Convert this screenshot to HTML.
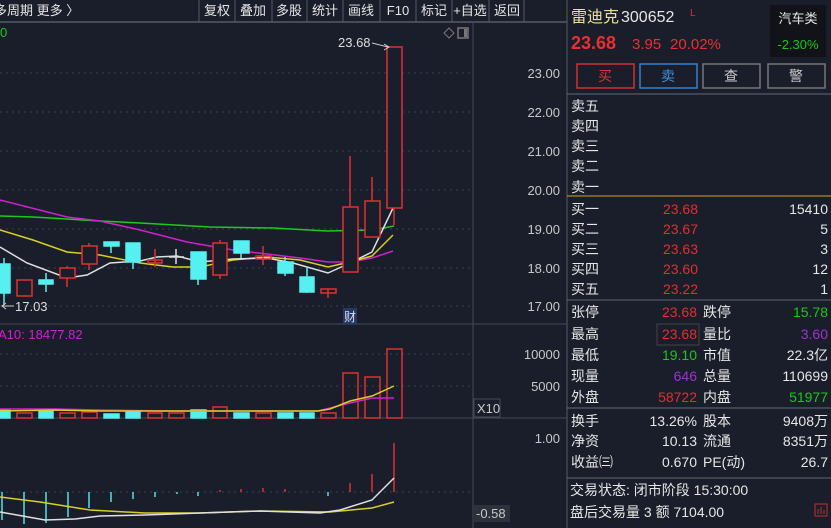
<!DOCTYPE html>
<html><head><meta charset="utf-8"><style>
body{margin:0;width:831px;height:528px;background:#1a1e2a;overflow:hidden;font-family:"Liberation Sans","Noto Sans CJK SC",sans-serif;}
svg{position:absolute;left:0;top:0}
</style></head><body>
<svg width="831" height="528" viewBox="0 0 831 528" font-family="Liberation Sans, Noto Sans CJK SC, sans-serif">
<rect width="831" height="528" fill="#1a1e2a"/>
<line x1="0" y1="22" x2="567" y2="22" stroke="#555a66" stroke-width="1.5"/>
<text x="-6" y="15" fill="#e6e6e6" font-size="13">多周期  更多 〉</text>
<g stroke="#555a66"><line x1="199" y1="0" x2="199" y2="22"/><line x1="235" y1="0" x2="235" y2="22"/><line x1="272" y1="0" x2="272" y2="22"/><line x1="307" y1="0" x2="307" y2="22"/><line x1="343" y1="0" x2="343" y2="22"/><line x1="380" y1="0" x2="380" y2="22"/><line x1="416" y1="0" x2="416" y2="22"/><line x1="452" y1="0" x2="452" y2="22"/><line x1="489" y1="0" x2="489" y2="22"/><line x1="524" y1="0" x2="524" y2="22"/></g>
<g fill="#e6e6e6" font-size="13" text-anchor="middle"><text x="217" y="15">复权</text><text x="253" y="15">叠加</text><text x="289" y="15">多股</text><text x="325" y="15">统计</text><text x="361" y="15">画线</text><text x="398" y="15">F10</text><text x="434" y="15">标记</text><text x="470" y="15">+自选</text><text x="507" y="15">返回</text></g>
<line x1="473" y1="22" x2="473" y2="528" stroke="#444a55"/>
<line x1="567" y1="0" x2="567" y2="528" stroke="#555a66"/>
<line x1="0" y1="324" x2="567" y2="324" stroke="#444a55"/>
<line x1="0" y1="418" x2="567" y2="418" stroke="#444a55"/>
<text x="0" y="37" fill="#19c819" font-size="13">0</text>
<path d="M444 33 l5 -5 l5 5 l-5 5z" fill="none" stroke="#777" />
<rect x="458" y="28" width="10" height="10" fill="none" stroke="#777" stroke-width="1.5"/><rect x="464" y="29" width="3" height="8" fill="#777"/>
<g stroke="#3a4050" stroke-dasharray="2,4"><line x1="0" y1="73" x2="473" y2="73"/><line x1="0" y1="112" x2="473" y2="112"/><line x1="0" y1="151" x2="473" y2="151"/><line x1="0" y1="190" x2="473" y2="190"/><line x1="0" y1="229" x2="473" y2="229"/><line x1="0" y1="268" x2="473" y2="268"/><line x1="0" y1="306" x2="473" y2="306"/><line x1="0" y1="354" x2="473" y2="354"/><line x1="0" y1="386" x2="473" y2="386"/><line x1="0" y1="492" x2="473" y2="492"/></g>
<g fill="#c8c8c8" font-size="13" text-anchor="end"><text x="560" y="78">23.00</text><text x="560" y="117">22.00</text><text x="560" y="156">21.00</text><text x="560" y="195">20.00</text><text x="560" y="234">19.00</text><text x="560" y="273">18.00</text><text x="560" y="311">17.00</text><text x="560" y="359">10000</text><text x="560" y="391">5000</text><text x="560" y="443">1.00</text></g>
<rect x="474" y="399" width="26" height="18" fill="none" stroke="#444a55"/><text x="477" y="413" fill="#c8c8c8" font-size="13">X10</text>
<rect x="474" y="505" width="36" height="17" fill="#2c313c"/><text x="476" y="518" fill="#c8c8c8" font-size="13">-0.58</text>
<g fill="none" stroke-width="1.5">
<polyline stroke="#1ec81e" points="0,216 33,217 100,221 140,223 210,227 273,228 327,231 373,230 394,226"/>
<polyline stroke="#d020d0" points="0,200 67,217 100,221 140,230 187,242 233,250 267,254 300,258 328,262 350,262 372,258 393,251"/>
<polyline stroke="#d8d020" points="0,230 33,240 67,252 100,255 140,263 173,267 200,267 233,260 267,257 300,260 328,267 350,262 372,256 393,235"/>
<polyline stroke="#e0e0e0" points="0,247 27,263 67,278 87,275 110,263 140,261 157,257 177,256 200,262 233,259 267,258 293,263 328,273 350,263 372,252 393,208"/>
</g>
<g stroke-width="1.5">
<g stroke="#55f0f0" fill="#55f0f0"><line x1="4" y1="258" x2="4" y2="305"/><rect x="0" y="264" width="10" height="29"/>
<line x1="46" y1="273" x2="46" y2="292"/><rect x="39" y="280" width="14" height="4"/>
<line x1="111" y1="242" x2="111" y2="253"/><rect x="104" y="242" width="15" height="4"/>
<line x1="133" y1="243" x2="133" y2="269"/><rect x="126" y="243" width="14" height="19"/>
<line x1="198" y1="252" x2="198" y2="285"/><rect x="191" y="252" width="15" height="27"/>
<line x1="241" y1="241" x2="241" y2="258"/><rect x="234" y="241" width="15" height="12"/>
<line x1="285" y1="257" x2="285" y2="276"/><rect x="278" y="262" width="15" height="11"/>
<line x1="307" y1="268" x2="307" y2="293"/><rect x="300" y="277" width="14" height="15"/></g>
<g stroke="#e03030" fill="none"><rect x="17" y="280" width="15" height="16"/>
<line x1="67" y1="266" x2="67" y2="287"/><rect x="60" y="268" width="15" height="10" fill="#1a1e2a"/>
<line x1="89" y1="243" x2="89" y2="270"/><rect x="82" y="246" width="15" height="18" fill="#1a1e2a"/>
<line x1="155" y1="249" x2="155" y2="267"/><rect x="148" y="260" width="14" height="3"/>
<line x1="220" y1="240" x2="220" y2="279"/><rect x="213" y="243" width="14" height="32" fill="#1a1e2a"/>
<line x1="263" y1="246" x2="263" y2="265"/><rect x="256" y="256" width="15" height="3"/>
<line x1="328" y1="289" x2="328" y2="298"/><rect x="321" y="289" width="15" height="4"/>
<line x1="350" y1="156" x2="350" y2="207"/><rect x="343" y="207" width="15" height="65" fill="#1a1e2a"/>
<line x1="372" y1="177" x2="372" y2="201"/><rect x="365" y="201" width="15" height="36" fill="#1a1e2a"/>
<line x1="394" y1="208" x2="394" y2="225"/><rect x="387" y="47" width="15" height="161" fill="#1a1e2a"/></g>
<line x1="169" y1="257" x2="184" y2="257" stroke="#ddd"/><line x1="176" y1="249" x2="176" y2="264" stroke="#ddd"/>
</g>
<text x="338" y="47" fill="#ddd" font-size="13">23.68</text><path d="M372 43 L388 47 M384 44 L389 47 L384 50" stroke="#ccc" fill="none"/>
<text x="15" y="311" fill="#ddd" font-size="13">17.03</text><path d="M2 306 L14 306 M6 303 L2 306 L6 309" stroke="#ccc" fill="none"/>
<rect x="343" y="308" width="14" height="16" fill="#243a66"/><text x="344" y="321" fill="#dde" font-size="12">财</text>
<text x="-2" y="339" fill="#d020d0" font-size="13">A10: 18477.82</text>
<g stroke-width="1.5">
<g fill="#55f0f0" stroke="#55f0f0"><rect x="0" y="410" width="10" height="8"/><rect x="39" y="410" width="14" height="8"/><rect x="104" y="414" width="15" height="4"/><rect x="126" y="412" width="14" height="6"/><rect x="191" y="410" width="15" height="8"/><rect x="234" y="413" width="15" height="5"/><rect x="278" y="413" width="15" height="5"/><rect x="300" y="413" width="14" height="5"/></g>
<g fill="none" stroke="#e03030"><rect x="17" y="413" width="15" height="5"/><rect x="60" y="413" width="15" height="5"/><rect x="82" y="412" width="15" height="6"/><rect x="148" y="413" width="14" height="5"/><rect x="169" y="413" width="15" height="5"/><rect x="213" y="407" width="14" height="11"/><rect x="256" y="413" width="15" height="5"/><rect x="321" y="413" width="15" height="5"/><rect x="343" y="373" width="15" height="45"/><rect x="365" y="377" width="15" height="41"/><rect x="387" y="349" width="15" height="69"/></g>
<polyline fill="none" stroke="#d020d0" points="0,409 55,409 100,410 165,411 210,411 318,411 350,403 372,398 394,398"/>
<polyline fill="none" stroke="#d8d020" points="0,411 55,410 100,411 210,411 318,411 330,409 350,401 372,396 394,386"/>
</g>
<g stroke-width="1.5">
<g stroke="#55e0e0"><line x1="2" y1="492" x2="2" y2="520"/><line x1="24" y1="492" x2="24" y2="524"/><line x1="46" y1="492" x2="46" y2="523"/><line x1="68" y1="492" x2="68" y2="517"/><line x1="89" y1="492" x2="89" y2="508"/><line x1="111" y1="492" x2="111" y2="502"/><line x1="133" y1="492" x2="133" y2="499"/><line x1="155" y1="492" x2="155" y2="497"/><line x1="177" y1="492" x2="177" y2="494"/><line x1="198" y1="492" x2="198" y2="496"/><line x1="328" y1="492" x2="328" y2="496"/></g>
<g stroke="#e03030"><line x1="220" y1="490" x2="220" y2="492"/><line x1="241" y1="489" x2="241" y2="492"/><line x1="263" y1="488" x2="263" y2="492"/><line x1="285" y1="489" x2="285" y2="492"/><line x1="350" y1="483" x2="350" y2="492"/><line x1="372" y1="474" x2="372" y2="492"/><line x1="394" y1="443" x2="394" y2="492"/></g>
<polyline fill="none" stroke="#d8d020" points="0,497 40,502 90,510 145,513 200,513 260,511 330,512 372,508 394,502"/>
<polyline fill="none" stroke="#e0e0e0" points="0,512 45,520 75,519 100,516 145,515 200,513 260,511 320,513 340,510 372,500 394,478"/>
</g>
<text x="571" y="22" fill="#e8e0a0" font-size="16">雷迪克</text><text x="621" y="22" fill="#e6e6e6" font-size="16">300652</text><text x="690" y="16" fill="#e03030" font-size="10">L</text>
<text x="571" y="49" fill="#e83030" font-size="18" font-weight="bold">23.68</text><text x="632" y="49" fill="#e83030" font-size="15">3.95</text><text x="670" y="49" fill="#e83030" font-size="15">20.02%</text>
<rect x="770" y="5" width="56" height="52" fill="#111318"/><text x="798" y="23" fill="#e6e6e6" font-size="13" text-anchor="middle">汽车类</text><text x="798" y="49" fill="#19c819" font-size="13" text-anchor="middle">-2.30%</text>
<rect x="577" y="64" width="57" height="24" fill="none" stroke="#d03030" stroke-width="1.5"/><text x="605" y="81" fill="#e03030" font-size="14" text-anchor="middle">买</text>
<rect x="640" y="64" width="57" height="24" fill="none" stroke="#3080d0" stroke-width="1.5"/><text x="668" y="81" fill="#4090e0" font-size="14" text-anchor="middle">卖</text>
<rect x="703" y="64" width="57" height="24" fill="none" stroke="#777" stroke-width="1.5"/><text x="731" y="81" fill="#ccc" font-size="14" text-anchor="middle">查</text>
<rect x="768" y="64" width="57" height="24" fill="none" stroke="#777" stroke-width="1.5"/><text x="796" y="81" fill="#ccc" font-size="14" text-anchor="middle">警</text>
<line x1="567" y1="94" x2="831" y2="94" stroke="#666b76"/>
<g fill="#e6e6e6" font-size="14"><text x="571" y="111">卖五</text><text x="571" y="131">卖四</text><text x="571" y="151">卖三</text><text x="571" y="171">卖二</text><text x="571" y="192">卖一</text>
<text x="571" y="214">买一</text><text x="571" y="234">买二</text><text x="571" y="254">买三</text><text x="571" y="274">买四</text><text x="571" y="294">买五</text></g>
<line x1="567" y1="196" x2="831" y2="196" stroke="#d8a020"/>
<g fill="#e03030" font-size="14" text-anchor="end"><text x="698" y="214">23.68</text><text x="698" y="234">23.67</text><text x="698" y="254">23.63</text><text x="698" y="274">23.60</text><text x="698" y="294">23.22</text></g>
<g fill="#e6e6e6" font-size="14" text-anchor="end"><text x="828" y="214">15410</text><text x="828" y="234">5</text><text x="828" y="254">3</text><text x="828" y="274">12</text><text x="828" y="294">1</text></g>
<line x1="567" y1="300" x2="831" y2="300" stroke="#666b76"/>
<rect x="657" y="324" width="42" height="21" fill="none" stroke="#444"/>
<g font-size="14"><g fill="#e6e6e6"><text x="571" y="317">张停</text><text x="571" y="339">最高</text><text x="571" y="360">最低</text><text x="571" y="381">现量</text><text x="571" y="402">外盘</text><text x="703" y="317">跌停</text><text x="703" y="339">量比</text><text x="703" y="360">市值</text><text x="703" y="381">总量</text><text x="703" y="402">内盘</text>
<text x="571" y="426">换手</text><text x="571" y="446">净资</text><text x="571" y="467">收益㈢</text><text x="703" y="426">股本</text><text x="703" y="446">流通</text><text x="703" y="467">PE(动)</text></g>
<g text-anchor="end"><text x="697" y="317" fill="#e03030">23.68</text><text x="697" y="339" fill="#e03030">23.68</text><text x="697" y="360" fill="#19c819">19.10</text><text x="697" y="381" fill="#a030d0">646</text><text x="697" y="402" fill="#e03030">58722</text>
<text x="828" y="317" fill="#19c819">15.78</text><text x="828" y="339" fill="#a030d0">3.60</text><text x="828" y="360" fill="#e6e6e6">22.3亿</text><text x="828" y="381" fill="#e6e6e6">110699</text><text x="828" y="402" fill="#19c819">51977</text>
<g fill="#e6e6e6"><text x="697" y="426">13.26%</text><text x="697" y="446">10.13</text><text x="697" y="467">0.670</text><text x="828" y="426">9408万</text><text x="828" y="446">8351万</text><text x="828" y="467">26.7</text></g></g></g>
<line x1="567" y1="408" x2="831" y2="408" stroke="#666b76"/>
<line x1="567" y1="478" x2="831" y2="478" stroke="#666b76"/>
<g fill="#e6e6e6" font-size="14"><text x="570" y="495">交易状态: 闭市阶段 15:30:00</text><text x="570" y="517">盘后交易量 3 额 7104.00</text></g>
<rect x="815" y="504" width="12" height="12" fill="none" stroke="#c03030"/><path d="M818 514v-5M821 514v-7M824 514v-4" stroke="#c03030"/>
</svg>
</body></html>
